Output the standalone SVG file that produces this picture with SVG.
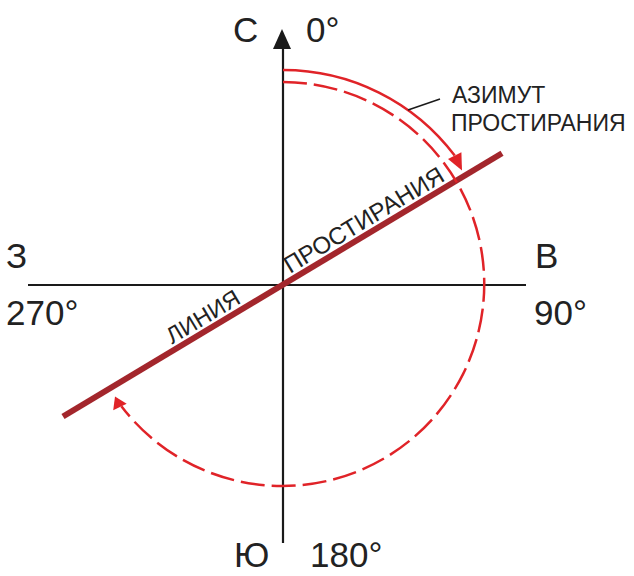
<svg xmlns="http://www.w3.org/2000/svg" width="634" height="576" viewBox="0 0 634 576">
<style>
.lbl{font-family:"Liberation Sans",Arial,sans-serif;fill:#222;}
.big{font-size:35px;}
.small{font-size:23px;}
.axis{stroke:#1a1a1a;stroke-width:2.2;fill:none;}
.strike{stroke:#a3262c;stroke-width:6;stroke-linecap:butt;fill:none;}
.arc{stroke:#e02328;stroke-width:2.5;fill:none;}
.dash{stroke-dasharray:24 7;}
.head{fill:#e02328;}
</style>
<rect width="634" height="576" fill="#fff"/>
<g id="connectors">
  <g id="axes">
    <line class="axis" x1="283" y1="46" x2="283" y2="543"/>
    <polygon points="282,29 291,49 273,49" fill="#1a1a1a"/>
    <line class="axis" x1="28" y1="285" x2="526" y2="285"/>
  </g>
  <g id="strike-line">
    <line class="strike" x1="63" y1="416.5" x2="502" y2="153.3"/>
  </g>
  <g id="azimuth-arc">
    <path class="arc" d="M283,70 A215,215 0 0 1 454.7,155.6"/>
    <polygon class="head" points="462,170.5 461.4,152.2 448,159"/>
    <line x1="408" y1="110" x2="440" y2="99" stroke="#1a1a1a" stroke-width="1.5"/>
  </g>
  <g id="dashed-arc">
    <path class="arc dash" d="M283,82 A202,202 0 1 1 121.4,406.2"/>
    <polygon class="head" points="115,396.5 126.7,403.7 113.2,410.3"/>
  </g>
</g>
<g id="node-north"><text class="lbl big" x="233" y="42">С</text><text class="lbl big" x="306" y="42">0°</text></g>
<g id="node-west"><text class="lbl big" x="6" y="268">З</text><text class="lbl big" x="6" y="325">270°</text></g>
<g id="node-east"><text class="lbl big" x="535" y="268">В</text><text class="lbl big" x="534" y="325">90°</text></g>
<g id="node-south"><text class="lbl big" x="234" y="567">Ю</text><text class="lbl big" x="310" y="567">180°</text></g>
<g id="node-azimuth-label"><text class="lbl small" x="452" y="103">АЗИМУТ</text><text class="lbl small" x="451" y="131">ПРОСТИРАНИЯ</text></g>
<g id="node-line-label">
  <text class="lbl small" text-anchor="middle" transform="translate(207,323.5) rotate(-31)">ЛИНИЯ</text>
  <text class="lbl small" text-anchor="middle" transform="translate(368,227) rotate(-31)" style="font-size:24px">ПРОСТИРАНИЯ</text>
</g>
</svg>
